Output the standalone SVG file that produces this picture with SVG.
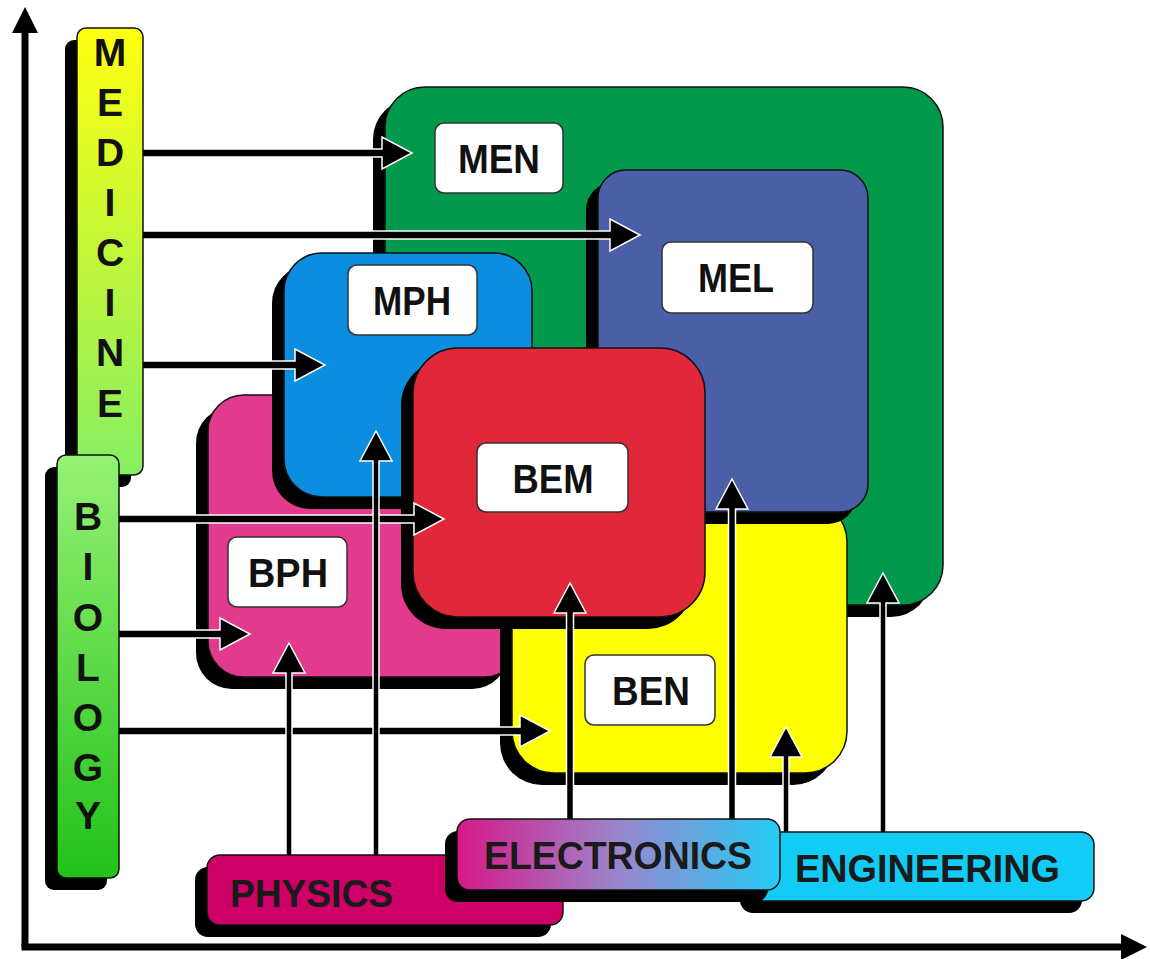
<svg xmlns="http://www.w3.org/2000/svg" width="1150" height="959" viewBox="0 0 1150 959">
<style>
.shadow{fill:#000}
.box{stroke:#111;stroke-width:1.5}
.lab{fill:#fff;stroke:#333;stroke-width:1.5}
.t{font-family:"Liberation Sans",Arial,sans-serif;font-weight:bold;font-size:41px;fill:#111;text-anchor:middle}
.v{font-family:"Liberation Sans",Arial,sans-serif;font-weight:bold;font-size:39px;fill:#111;text-anchor:middle}
.bt{font-family:"Liberation Sans",Arial,sans-serif;font-weight:bold;font-size:39px;fill:#1a1a1a}
.arrow{fill:#000;stroke:#fff;stroke-width:1.5;stroke-linejoin:miter}
.axis{stroke:#000;stroke-width:7;fill:none}
</style>
<defs>
<linearGradient id="gMed" x1="0" y1="0" x2="0" y2="1">
<stop offset="0" stop-color="#ffff10"/><stop offset="1" stop-color="#86ee62"/>
</linearGradient>
<linearGradient id="gBio" x1="0" y1="0" x2="0" y2="1">
<stop offset="0" stop-color="#96f274"/><stop offset="1" stop-color="#22c21a"/>
</linearGradient>
<linearGradient id="gEle" x1="0" y1="0" x2="1" y2="0">
<stop offset="0" stop-color="#d8188a"/><stop offset="0.5" stop-color="#9a86cc"/><stop offset="1" stop-color="#22ccf6"/>
</linearGradient>
</defs>

<g id="axes">
<line class="axis" x1="25" y1="28" x2="25" y2="947"/>
<line class="axis" x1="21.5" y1="947" x2="1124" y2="947"/>
<polygon points="25,7 12,33 38,33" fill="#000"/>
<polygon points="1147,947 1121,934 1121,960" fill="#000"/>
</g>

<g id="MEN">
<rect class="shadow" x="373" y="99" width="558" height="518" rx="40"/>
<rect class="box" x="385" y="87" width="558" height="518" rx="40" fill="#03994d"/>
<rect class="lab" x="435" y="123" width="128" height="70" rx="9"/>
<text class="t" x="499" y="173" textLength="82" lengthAdjust="spacingAndGlyphs">MEN</text>
</g>

<g id="BPH">
<rect class="shadow" x="196" y="407" width="312" height="282" rx="36"/>
<rect class="box" x="208" y="395" width="312" height="282" rx="36" fill="#e23a8c"/>
<rect class="lab" x="228" y="537" width="119" height="70" rx="9"/>
<text class="t" x="288" y="587" textLength="80" lengthAdjust="spacingAndGlyphs">BPH</text>
</g>

<g id="BEN">
<rect class="shadow" x="500" y="512" width="335" height="273" rx="42"/>
<rect class="box" x="512" y="500" width="335" height="273" rx="42" fill="#ffff00"/>
<rect class="lab" x="585" y="655" width="130" height="70" rx="9"/>
<text class="t" x="651" y="705" textLength="78" lengthAdjust="spacingAndGlyphs">BEN</text>
</g>

<g id="MEL">
<rect class="shadow" x="586" y="182" width="270" height="342" rx="28"/>
<rect class="box" x="598" y="170" width="270" height="342" rx="28" fill="#4b5fa8"/>
<rect class="lab" x="662" y="242" width="151" height="71" rx="9"/>
<text class="t" x="736" y="292" textLength="76" lengthAdjust="spacingAndGlyphs">MEL</text>
</g>

<g id="MPH">
<rect class="shadow" x="272" y="265" width="248" height="244" rx="38"/>
<rect class="box" x="284" y="253" width="248" height="244" rx="38" fill="#0b8de0"/>
<rect class="lab" x="348" y="265" width="129" height="70" rx="9"/>
<text class="t" x="412" y="315" textLength="78" lengthAdjust="spacingAndGlyphs">MPH</text>
</g>

<g id="BEM">
<rect class="shadow" x="401" y="360" width="292" height="269" rx="45"/>
<rect class="box" x="413" y="348" width="292" height="269" rx="45" fill="#e0283a"/>
<rect class="lab" x="477" y="443" width="151" height="69" rx="9"/>
<text class="t" x="553" y="493" textLength="81" lengthAdjust="spacingAndGlyphs">BEM</text>
</g>

<g id="connectors">
<path class="arrow" d="M141,149 L382,149 L382,137 L412,153 L382,169 L382,157 L141,157 Z"/>
<path class="arrow" d="M141,231 L610,231 L610,219 L640,235 L610,251 L610,239 L141,239 Z"/>
<path class="arrow" d="M141,361 L295,361 L295,349 L325,365 L295,381 L295,369 L141,369 Z"/>
<path class="arrow" d="M117,515 L414,515 L414,503 L444,519 L414,535 L414,523 L117,523 Z"/>
<path class="arrow" d="M117,630 L220,630 L220,618 L250,634 L220,650 L220,638 L117,638 Z"/>
<path class="arrow" d="M117,727 L520,727 L520,715 L550,731 L520,747 L520,735 L117,735 Z"/>
<path class="arrow" d="M286,857 L286,673 L273,673 L289,643 L305,673 L292,673 L292,857 Z"/>
<path class="arrow" d="M373,857 L373,461 L360,461 L376,431 L392,461 L379,461 L379,857 Z"/>
<path class="arrow" d="M566.5,822 L566.5,613 L554,613 L570,583 L586,613 L573.5,613 L573.5,822 Z"/>
<path class="arrow" d="M728.5,822 L728.5,509 L716,509 L732,479 L748,509 L735.5,509 L735.5,822 Z"/>
<path class="arrow" d="M783,834 L783,757 L770,757 L786,727 L802,757 L789,757 L789,834 Z"/>
<path class="arrow" d="M880,834 L880,603 L867,603 L883,573 L899,603 L886,603 L886,834 Z"/>
</g>

<g id="MEDICINE">
<rect class="shadow" x="65" y="40" width="66" height="447" rx="9"/>
<rect class="box" x="77" y="28" width="66" height="447" rx="9" fill="url(#gMed)"/>
<text class="v" x="110" y="66">M</text>
<text class="v" x="110" y="116">E</text>
<text class="v" x="110" y="166">D</text>
<text class="v" x="110" y="216">I</text>
<text class="v" x="110" y="266">C</text>
<text class="v" x="110" y="316">I</text>
<text class="v" x="110" y="366">N</text>
<text class="v" x="110" y="417">E</text>
</g>

<g id="BIOLOGY">
<rect class="shadow" x="45" y="467" width="62" height="423" rx="9"/>
<rect class="box" x="57" y="455" width="62" height="423" rx="9" fill="url(#gBio)"/>
<text class="v" x="88" y="530">B</text>
<text class="v" x="88" y="580">I</text>
<text class="v" x="88" y="631">O</text>
<text class="v" x="88" y="681">L</text>
<text class="v" x="88" y="731">O</text>
<text class="v" x="88" y="781">G</text>
<text class="v" x="88" y="829">Y</text>
</g>

<g id="PHYSICS">
<rect class="shadow" x="195" y="867" width="356" height="70" rx="13"/>
<rect class="box" x="207" y="855" width="356" height="70" rx="13" fill="#cc0066"/>
<text class="bt" x="230" y="907" textLength="163" lengthAdjust="spacingAndGlyphs">PHYSICS</text>
</g>

<g id="ENGINEERING">
<rect class="shadow" x="740" y="844" width="342" height="69" rx="13"/>
<rect class="box" x="752" y="832" width="342" height="69" rx="13" fill="#12ccf5"/>
<text class="bt" x="795" y="882" textLength="265" lengthAdjust="spacingAndGlyphs">ENGINEERING</text>
</g>

<g id="ELECTRONICS">
<rect class="shadow" x="445" y="831" width="323" height="71" rx="13"/>
<rect class="box" x="457" y="819" width="323" height="71" rx="13" fill="url(#gEle)"/>
<text class="bt" x="484" y="869" textLength="268" lengthAdjust="spacingAndGlyphs">ELECTRONICS</text>
</g>
</svg>
